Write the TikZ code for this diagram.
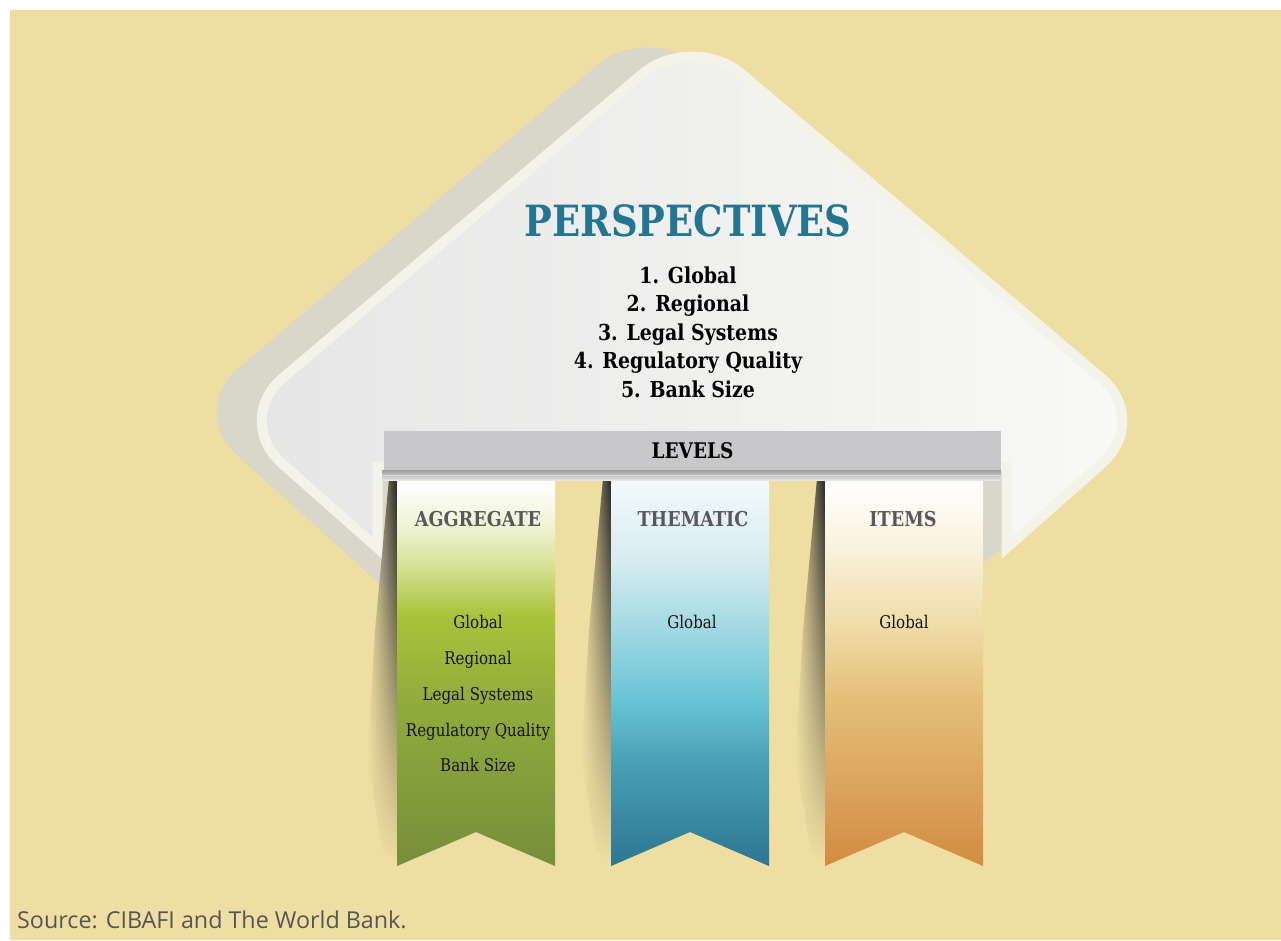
\documentclass[tikz,border=0pt]{standalone}
\usepackage{fontspec}
\newfontfamily\ser{DejaVu Serif}[FakeStretch=0.86]
\newfontfamily\srcf{Open Sans}
\usetikzlibrary{calc,fadings}

\definecolor{bg}{RGB}{238,222,161}
\definecolor{shadowc}{RGB}{216,215,202}
\definecolor{frontL}{RGB}{230,230,230}
\definecolor{frontR}{RGB}{249,249,247}
\definecolor{outl}{RGB}{244,243,234}
\definecolor{barc}{RGB}{200,200,202}
\definecolor{ptitle}{RGB}{35,118,145}
\definecolor{ttlgrey}{RGB}{88,89,91}
\definecolor{srcgrey}{RGB}{85,85,88}
% green ribbon
\definecolor{g1}{RGB}{240,244,214}
\definecolor{g2}{RGB}{214,226,150}
\definecolor{g3}{RGB}{170,195,58}
\definecolor{g4}{RGB}{145,172,60}
\definecolor{g5}{RGB}{117,143,59}
% blue ribbon
\definecolor{b0}{RGB}{244,250,251}
\definecolor{b1}{RGB}{214,236,241}
\definecolor{b2}{RGB}{160,216,226}
\definecolor{b3}{RGB}{104,196,214}
\definecolor{b4}{RGB}{74,160,182}
\definecolor{b5}{RGB}{44,118,145}
% orange ribbon
\definecolor{o1}{RGB}{250,244,225}
\definecolor{o2}{RGB}{240,222,170}
\definecolor{o3}{RGB}{228,190,120}
\definecolor{o4}{RGB}{220,165,95}
\definecolor{o5}{RGB}{210,140,64}

\pgfdeclareverticalshading{greenrib}{100bp}{color(0bp)=(g5); color(25bp)=(g5); color(46.5bp)=(g4); color(57.5bp)=(g3); color(64bp)=(g2); color(69.2bp)=(g1); color(75bp)=(white); color(100bp)=(white)}
\pgfdeclareverticalshading{bluerib}{100bp}{color(0bp)=(b5); color(25bp)=(b5); color(38.7bp)=(b4); color(46.5bp)=(b3); color(55.5bp)=(b2); color(64.6bp)=(b1); color(75bp)=(b0); color(100bp)=(b0)}
\pgfdeclareverticalshading{orangerib}{100bp}{color(0bp)=(o5); color(25bp)=(o5); color(36.1bp)=(o4); color(46.5bp)=(o3); color(56.9bp)=(o2); color(67.2bp)=(o1); color(75bp)=(white); color(100bp)=(white)}

\tikzfading[name=fadedown, top color=transparent!0, bottom color=transparent!100]

\tikzset{
  ptitlest/.style={font=\ser\bfseries\fontsize{43}{50}\selectfont, text=ptitle, anchor=base, inner sep=0pt},
  plist/.style={font=\ser\bfseries\fontsize{22}{26}\selectfont, text=black, anchor=base, inner sep=0pt},
  barst/.style={fill=barc, minimum width=617pt, minimum height=39pt, inner sep=0pt,
    font=\ser\bfseries\fontsize{21.5}{25}\selectfont, text=black},
  rtitle/.style={font=\ser\bfseries\fontsize{20.5}{24}\selectfont, text=ttlgrey, anchor=base, inner sep=0pt},
  ritem/.style={font=\ser\fontsize{17.5}{21}\selectfont, text=black!92, anchor=base, inner sep=0pt},
  srcst/.style={font=\srcf\fontsize{23.3}{27}\selectfont, text=srcgrey, anchor=base west, inner sep=0pt},
}

\newcommand\ribbonshape[2]{%
  \path[left color=bg, right color=black!85, path fading=fadedown]
    ({#1-8},478) -- (#1,478) -- (#1,862) -- ({#1-14},852) -- ({#1-30},760) -- ({#1-22},630) -- cycle;
  \path[shading=#2] (#1,480) -- ({#1+158},480) -- ({#1+158},866) -- ({#1+79},832) -- (#1,866) -- cycle;
}

\begin{document}
\begin{tikzpicture}[x=1pt,y=-1pt]
\useasboundingbox (0,0) rectangle (1281,940);
\fill[white] (0,0) rectangle (1281,940);
\fill[bg] (10,10) rectangle (1281,940);

% --- house shadow (shifted copy) ---
\begin{scope}[shift={(-45,-9)}]
  \coordinate (svl) at (233,420);
  \coordinate (svt) at (692,32);
  \coordinate (svr) at (1151,420);
  \coordinate (snl) at (435,602);
  \coordinate (snr) at (1028,500);
  \coordinate (snlt) at (435,467);
  \coordinate (snrt) at (1028,467);
  \fill[shadowc] (snl) -- ($(svl)!65pt!(snl)$) .. controls ($(svl)!29pt!(snl)$) and ($(svl)!29pt!(svt)$) .. ($(svl)!65pt!(svt)$)
    -- ($(svt)!65pt!(svl)$) .. controls ($(svt)!29pt!(svl)$) and ($(svt)!29pt!(svr)$) .. ($(svt)!65pt!(svr)$)
    -- ($(svr)!65pt!(svt)$) .. controls ($(svr)!29pt!(svt)$) and ($(svr)!29pt!(snr)$) .. ($(svr)!65pt!(snr)$)
    -- (snr) -- (snrt) -- (snlt) -- cycle;
\end{scope}
\fill[shadowc] (983,470) -- (1002,470) -- (1002,549) -- (983,563) -- cycle;

% --- house front ---
\coordinate (vl) at (233,420);
\coordinate (vt) at (692,32);
\coordinate (vr) at (1151,420);
\coordinate (nl) at (377.5,548);
\coordinate (nr) at (1006.5,548);
\coordinate (nlt) at (377.5,467);
\coordinate (nrt) at (1006.5,467);
\draw[outl, line width=10pt, left color=frontL, right color=frontR]
  (nl) -- ($(vl)!65pt!(nl)$) .. controls ($(vl)!29pt!(nl)$) and ($(vl)!29pt!(vt)$) .. ($(vl)!65pt!(vt)$)
  -- ($(vt)!65pt!(vl)$) .. controls ($(vt)!29pt!(vl)$) and ($(vt)!29pt!(vr)$) .. ($(vt)!65pt!(vr)$)
  -- ($(vr)!65pt!(vt)$) .. controls ($(vr)!29pt!(vt)$) and ($(vr)!29pt!(nr)$) .. ($(vr)!65pt!(nr)$)
  -- (nr) -- (nrt) -- (nlt) -- cycle;

% --- ribbons ---
\ribbonshape{397}{greenrib}
\ribbonshape{611}{bluerib}
\ribbonshape{825}{orangerib}

% --- levels bar and roll ---
\shade[top color=black!38, bottom color=black!10] (382,470) rectangle (1001,480);
\draw[white!85!black, line width=0.8pt] (382,475) -- (1001,475);
\node[barst] (levels) at (692.5,450.5) {LEVELS};

% --- texts ---
\node[ptitlest] (ptitle) at (688,236) {PERSPECTIVES};
\node[plist] (p1) at (688,283) {1. Global};
\node[plist] (p2) at (688,311.6) {2. Regional};
\node[plist] (p3) at (688,340.2) {3. Legal Systems};
\node[plist] (p4) at (688,368.8) {4. Regulatory Quality};
\node[plist] (p5) at (688,397.4) {5. Bank Size};

\node[rtitle] (agg) at (478,526) {AGGREGATE};
\node[rtitle] (them) at (693,526) {THEMATIC};
\node[rtitle] (items) at (903,526) {ITEMS};

\node[ritem] (a1) at (478,628) {Global};
\node[ritem] (a2) at (478,664) {Regional};
\node[ritem] (a3) at (478,700) {Legal Systems};
\node[ritem] (a4) at (478,736) {Regulatory Quality};
\node[ritem] (a5) at (478,771) {Bank Size};
\node[ritem] (t1) at (692,628) {Global};
\node[ritem] (i1) at (904,628) {Global};

\node[srcst] (src) at (17,928) {Source: CIBAFI and The World Bank.};
\end{tikzpicture}
\end{document}
